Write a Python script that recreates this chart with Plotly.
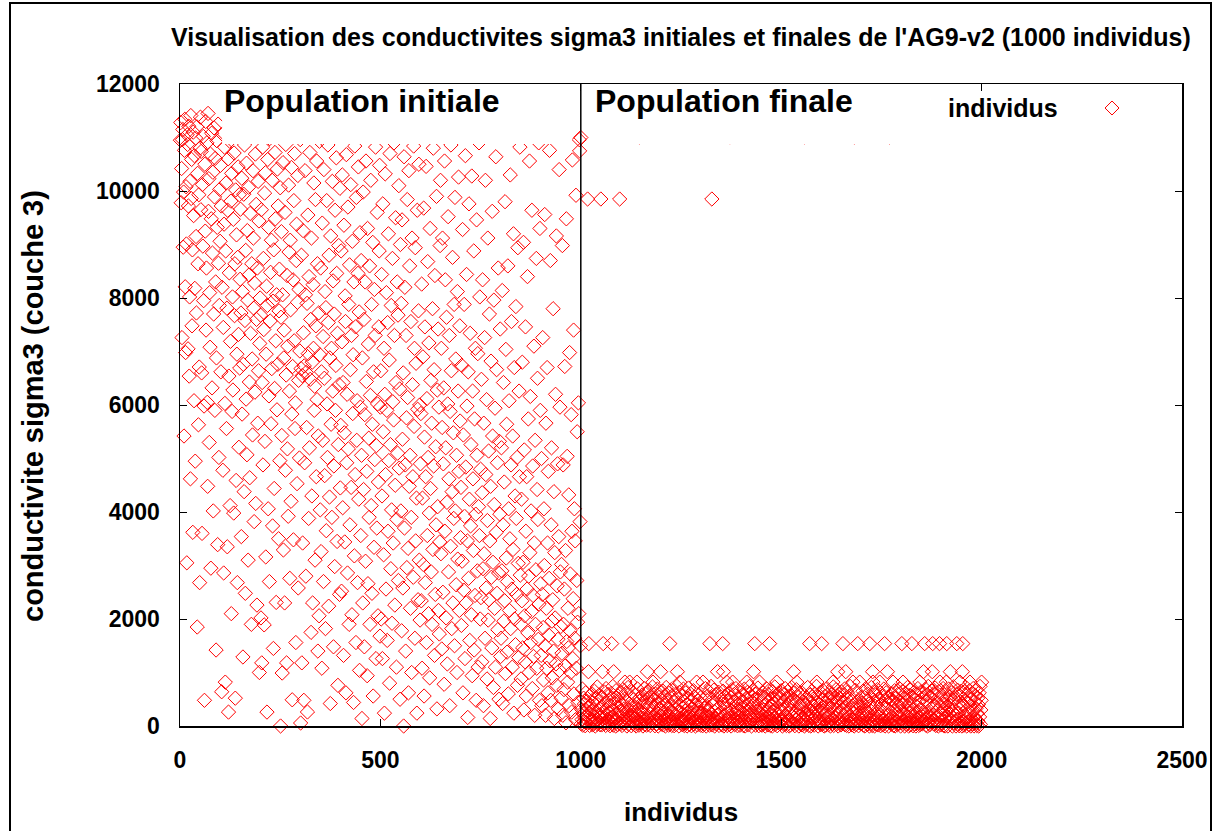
import plotly.graph_objects as go

# ---- DATA (estimated) ----
# sigma3 of the 1000 individuals of the initial population (individus 1..1000)
pop_initiale = [
    10950, 11280, 9780, 10420, 7260, 10960, 11150, 8950, 9980, 5420, 10760, 11340, 8210, 6980, 10080, 9010, 3050, 11050, 10870, 7050, 9720, 11210, 6540, 8020, 10180, 4620, 11410, 9860, 10590, 7480, 8900, 3620, 11100, 9540, 6080, 10660, 8180, 4950, 10990, 9150, 7720, 11200, 1850, 10330, 8640, 5630, 9930, 6710, 2680, 10800,
    11380, 9650, 10740, 6600, 3600, 10120, 8970, 11020, 7950, 5980, 480, 10500, 9250, 11300, 7400, 8560, 10900, 6050, 4480, 11450, 9620, 10230, 5300, 8100, 7080, 10690, 2950, 9480, 11080, 6320, 8840, 10350, 4020, 7700, 11180, 9890, 5900, 10610, 8300, 1420, 6880, 10940, 9320, 3390, 11250, 8650, 5020, 7860, 10030, 9060,
    10480, 6620, 9720, 640, 8200, 11060, 4780, 7450, 2860, 9380, 10820, 6030, 820, 8880, 10150, 5560, 7810, 3350, 9640, 10600, 260, 6540, 8470, 10930, 4120, 7190, 9810, 2100, 10330, 5880, 8020, 6280, 9470, 3980, 10710, 7670, 8640, 520, 10020, 4590, 9180, 6950, 2680, 8760, 10450, 7320, 5210, 9930, 6690, 8350,
    9660, 7720, 3540, 10240, 5830, 8120, 1290, 6760, 9940, 4380, 10860, 7580, 2480, 8890, 6110, 10520, 5070, 9260, 7960, 3100, 10070, 8430, 6430, 4640, 9580, 7340, 11020, 1900, 8640, 6860, 5440, 10380, 9120, 7810, 3820, 8280, 6240, 10690, 4160, 9750, 7600, 2260, 8560, 5660, 10180, 6640, 9440, 1000, 7150, 8000,
    7680, 2020, 9650, 1180, 6420, 10820, 4880, 8740, 7410, 1890, 9960, 5320, 10340, 3160, 6950, 8220, 260, 7860, 10590, 4060, 9320, 6170, 2700, 10980, 7570, 8480, 5650, 9080, 6680, 10200, 3740, 7940, 1450, 8900, 4440, 6310, 10720, 9480, 7200, 2310, 8060, 5910, 10410, 6760, 9720, 3500, 7760, 8540, 4960, 10060,
    0, 7640, 9240, 5430, 990, 8060, 10530, 3290, 6880, 7400, 2300, 9600, 4780, 10870, 6560, 1180, 8420, 5180, 7100, 3920, 10110, 8860, 6260, 2760, 9080, 7780, 4200, 10440, 5830, 490, 6720, 8340, 3480, 9820, 7200, 10700, 5560, 6040, 1560, 8700, 9380, 4530, 7920, 10290, 2580, 6460, 8160, 5010, 7010, 10960,
    56, 6680, 8800, 1180, 6550, 3420, 9260, 7350, 480, 6730, 4920, 10380, 8060, 2800, 6610, 5580, 7900, 262, 9550, 6960, 3880, 8400, 5200, 10720, 6480, 7600, 1750, 9120, 4300, 6800, 2300, 8250, 7060, 10150, 5900, 6350, 3100, 9840, 7480, 4660, 10560, 6100, 8640, 1400, 5420, 7720, 2060, 10930, 6940, 4040,
    8560, 3260, 6620, 1080, 9400, 5340, 7280, 2700, 10400, 6500, 4680, 8120, 1820, 7820, 3650, 9820, 6020, 5020, 10860, 7540, 2240, 8800, 4280, 6880, 420, 9160, 5640, 7060, 3900, 10180, 6260, 8320, 1480, 4860, 7700, 2980, 9640, 5900, 6740, 10620, 8460, 3450, 7340, 760, 5260, 8980, 6380, 2460, 10050, 4450,
    5620, 8880, 2520, 7180, 10300, 4080, 6420, 1320, 9360, 5480, 3440, 8040, 7560, 620, 10680, 4920, 6200, 2860, 9700, 5180, 7880, 1900, 8620, 3760, 6660, 10120, 4460, 7300, 2080, 9060, 5840, 6940, 440, 8300, 3180, 10840, 4700, 7460, 1560, 9880, 5340, 6080, 2680, 8460, 10450, 4240, 7740, 1040, 9220, 5960,
    3560, 8700, 5060, 140, 6880, 2300, 9980, 4420, 7600, 1480, 5820, 8300, 3080, 10560, 6440, 4760, 940, 9300, 2660, 7140, 5380, 3900, 8600, 1900, 6180, 10200, 4120, 7880, 2480, 5640, 9040, 560, 6620, 3340, 8160, 4980, 7300, 10820, 1260, 5240, 3700, 9600, 6020, 2060, 4560, 7460, 8880, 10480, 1680, 5960,
    6640, 2000, 8440, 4300, 1260, 9760, 5500, 3200, 7060, 240, 6200, 10320, 4700, 2560, 8100, 5900, 1600, 7540, 3640, 9200, 4960, 6840, 800, 10700, 5260, 2940, 7860, 4040, 1920, 8740, 6060, 3420, 5720, 10900, 7300, 2260, 4500, 9500, 6420, 1100, 3860, 8300, 5100, 7680, 2720, 10100, 4820, 6300, 500, 9000,
    4020, 7900, 1780, 9460, 5360, 2580, 6600, 0, 10640, 3700, 8200, 4880, 1400, 7300, 5760, 2960, 9840, 6140, 3320, 620, 10380, 4480, 8600, 5060, 2200, 7560, 3900, 1000, 9120, 6380, 4660, 2780, 10840, 5600, 7060, 1640, 8940, 3460, 6780, 4260, 240, 9640, 5920, 2360, 7760, 10500, 3100, 6000, 1980, 4900,
    5840, 2340, 8260, 1080, 4260, 6900, 3020, 9680, 560, 5400, 7460, 2680, 4660, 10460, 1560, 6120, 3560, 8680, 5020, 2100, 7160, 3980, 900, 9300, 4440, 6460, 2880, 5660, 1900, 7800, 3300, 10800, 4860, 6660, 1320, 8420, 2460, 5220, 3760, 9900, 320, 6280, 4100, 7420, 2160, 5960, 1720, 3440, 8980, 10200,
    3220, 7060, 1440, 5580, 9120, 2500, 4900, 6320, 780, 10560, 3640, 8340, 5200, 2020, 7640, 4180, 1160, 6020, 9520, 2880, 4620, 7300, 380, 5880, 3360, 10860, 6640, 1820, 4380, 8760, 2300, 5480, 3880, 7880, 1500, 9880, 4020, 6860, 2640, 5060, 1000, 8120, 3120, 6260, 10260, 4760, 2160, 7480, 5700, 3520,
    4460, 1880, 6740, 3080, 9280, 620, 5440, 2540, 7880, 3920, 1260, 10660, 4840, 2300, 8440, 5980, 3460, 160, 6620, 2760, 9760, 4240, 1600, 7340, 3740, 5260, 2080, 10280, 940, 6260, 4620, 3280, 8880, 1420, 5740, 2440, 7060, 3960, 480, 9460, 5060, 2900, 6960, 1100, 4100, 10900, 3560, 8020, 2000, 4800,
    2400, 6480, 1200, 4360, 8340, 2940, 380, 5660, 3220, 7260, 1640, 10200, 4700, 2580, 6100, 880, 3840, 9120, 1980, 5140, 2360, 7700, 3460, 140, 4480, 6820, 2780, 1460, 9620, 5420, 3060, 720, 7960, 4140, 2200, 5940, 1100, 10640, 3620, 6660, 2480, 4920, 1800, 8560, 2860, 500, 5320, 3960, 7420, 1300,
    1640, 5200, 2900, 8140, 420, 3760, 6420, 1960, 4560, 2340, 9800, 980, 7040, 3140, 5640, 1380, 2700, 8600, 600, 4060, 6080, 2160, 3500, 10300, 1820, 4880, 7560, 2560, 1100, 5420, 3300, 9200, 240, 6700, 2000, 4300, 1520, 7840, 3880, 2460, 5020, 760, 8940, 3040, 1280, 6260, 4660, 10820, 2820, 1900,
    880, 4240, 2340, 6800, 1460, 3060, 9040, 300, 5160, 2060, 1200, 7460, 3640, 560, 4660, 2560, 8400, 1740, 5740, 2800, 1000, 10560, 3240, 6160, 1560, 4020, 2140, 9640, 700, 4860, 2440, 1300, 7100, 3420, 200, 5340, 1900, 2920, 8740, 1080, 4420, 6500, 3860, 1620, 10900, 2280, 480, 9300, 5900, 2660,
    1320, 5000, 380, 2460, 7260, 1840, 860, 4060, 3000, 9560, 1500, 200, 5660, 2200, 1080, 6700, 3420, 620, 4760, 1700, 2760, 10760, 1220, 8700, 480, 3760, 5200, 1960, 900, 2360, 7800, 1400, 4380, 140, 3240, 2020, 6200, 1160, 9160, 760, 2620, 4900, 1620, 320, 3540, 10400, 1040, 5960, 2880, 1860,
    520, 3020, 1360, 8980, 200, 4880, 1900, 680, 2560, 6720, 1120, 3280, 60, 9480, 1580, 5040, 820, 2200, 1460, 4320, 380, 6980, 1780, 2840, 1000, 5820, 260, 3640, 10580, 1260, 2380, 7400, 600, 4060, 1640, 3460, 120, 9920, 1080, 2720, 5500, 1940, 440, 6040, 2100, 10960, 10750, 3820, 1500, 11000,
]

# sigma3 of the 1000 individuals of the final population (individus 1001..2000), low band
pop_finale = [
    40, 310, 120, 690, 15, 230, 520, 80, 410, 150, 5, 620, 270, 60, 460, 190, 30, 350, 100, 720, 250, 10, 560, 140, 380, 70, 210, 600, 20, 440, 110, 300, 50, 650, 170, 0, 500, 90, 260, 130, 730, 35, 400, 200, 75, 580, 330, 25, 160, 480,
    180, 20, 540, 95, 360, 0, 270, 640, 45, 150, 430, 10, 700, 220, 65, 330, 125, 590, 30, 250, 470, 85, 5, 380, 160, 610, 55, 290, 115, 740, 15, 200, 510, 70, 420, 140, 0, 660, 240, 100, 350, 25, 560, 185, 60, 450, 135, 280, 40, 620,
    90, 400, 10, 230, 680, 130, 55, 320, 500, 20, 170, 610, 75, 260, 0, 440, 110, 720, 35, 300, 150, 540, 65, 210, 380, 5, 640, 120, 270, 45, 490, 195, 80, 350, 25, 570, 140, 0, 410, 240, 100, 690, 60, 310, 15, 460, 175, 530, 70, 280,
    260, 50, 580, 145, 0, 370, 95, 700, 210, 30, 450, 120, 620, 15, 290, 75, 520, 180, 40, 340, 660, 105, 10, 400, 230, 560, 60, 155, 730, 25, 310, 480, 85, 200, 5, 600, 130, 380, 45, 250, 690, 115, 0, 430, 170, 540, 70, 320, 20, 640,
    35, 290, 470, 110, 650, 20, 205, 390, 80, 560, 0, 160, 720, 245, 60, 430, 125, 330, 15, 610, 190, 500, 45, 270, 90, 680, 10, 360, 140, 530, 70, 225, 5, 450, 175, 590, 30, 310, 100, 740, 55, 260, 420, 135, 0, 630, 215, 380, 65, 150,
    120, 560, 25, 340, 80, 690, 190, 10, 450, 140, 280, 620, 55, 400, 0, 230, 520, 95, 710, 165, 30, 370, 110, 600, 250, 5, 480, 70, 320, 150, 660, 40, 210, 540, 85, 0, 390, 130, 730, 270, 20, 470, 105, 300, 580, 60, 180, 420, 15, 240,
    410, 70, 250, 5, 600, 145, 330, 30, 520, 95, 700, 200, 0, 380, 125, 560, 50, 290, 170, 640, 15, 440, 85, 230, 740, 110, 360, 20, 500, 160, 60, 670, 270, 0, 420, 135, 590, 40, 310, 190, 480, 75, 220, 630, 10, 350, 100, 550, 255, 35,
    150, 490, 20, 300, 650, 85, 0, 410, 205, 560, 45, 340, 120, 720, 10, 260, 470, 70, 610, 180, 30, 390, 140, 530, 0, 290, 680, 95, 220, 450, 55, 160, 590, 25, 360, 115, 700, 240, 65, 430, 5, 310, 500, 175, 80, 640, 15, 270, 390, 130,
    60, 330, 580, 140, 10, 450, 230, 690, 90, 0, 370, 170, 520, 40, 280, 630, 105, 20, 400, 210, 740, 75, 310, 150, 550, 0, 250, 460, 125, 660, 35, 190, 420, 85, 600, 15, 340, 110, 510, 270, 50, 710, 200, 5, 380, 160, 570, 95, 300, 25,
    220, 15, 470, 100, 620, 300, 45, 180, 540, 0, 390, 130, 700, 65, 260, 440, 20, 590, 155, 330, 80, 680, 10, 240, 500, 120, 370, 0, 640, 195, 55, 420, 145, 730, 30, 280, 560, 90, 350, 5, 460, 210, 610, 70, 170, 520, 40, 310, 110, 660,
    85, 400, 0, 260, 590, 135, 30, 470, 200, 700, 55, 320, 10, 530, 165, 640, 95, 380, 240, 0, 560, 115, 20, 440, 290, 720, 70, 180, 510, 40, 350, 150, 620, 5, 270, 460, 105, 680, 25, 210, 540, 75, 330, 0, 600, 190, 45, 410, 125, 300,
    340, 20, 610, 160, 75, 450, 250, 0, 690, 115, 380, 30, 530, 205, 60, 720, 140, 310, 10, 470, 90, 580, 270, 0, 420, 175, 650, 45, 230, 500, 120, 15, 360, 600, 80, 290, 190, 740, 35, 440, 130, 0, 550, 255, 65, 400, 100, 630, 25, 320,
    170, 480, 40, 290, 660, 110, 0, 360, 220, 560, 15, 430, 145, 700, 70, 260, 510, 25, 390, 185, 620, 95, 0, 330, 460, 130, 590, 50, 240, 730, 10, 410, 160, 540, 80, 300, 680, 35, 200, 450, 120, 0, 370, 600, 60, 270, 520, 105, 20, 640,
    55, 310, 580, 0, 200, 440, 95, 690, 25, 350, 150, 520, 10, 260, 630, 75, 400, 180, 0, 560, 115, 740, 45, 290, 470, 135, 20, 380, 610, 85, 230, 0, 500, 160, 670, 30, 340, 100, 450, 210, 590, 65, 5, 420, 250, 710, 125, 360, 40, 540,
    430, 90, 230, 650, 15, 380, 140, 530, 0, 300, 700, 60, 190, 470, 30, 600, 255, 110, 410, 0, 560, 175, 45, 340, 720, 120, 10, 490, 280, 80, 640, 200, 0, 370, 150, 580, 35, 440, 100, 680, 260, 20, 510, 165, 70, 320, 620, 5, 390, 130,
    240, 560, 20, 370, 110, 690, 50, 290, 0, 480, 160, 620, 85, 330, 15, 540, 210, 0, 420, 130, 730, 65, 260, 500, 35, 180, 600, 95, 350, 10, 460, 145, 660, 0, 300, 520, 75, 220, 410, 25, 590, 170, 45, 380, 700, 120, 275, 0, 440, 60,
    100, 390, 650, 15, 230, 510, 70, 0, 340, 610, 145, 30, 460, 190, 720, 55, 280, 0, 570, 120, 400, 20, 680, 250, 85, 430, 165, 540, 5, 310, 630, 100, 40, 480, 215, 0, 370, 590, 135, 60, 700, 260, 10, 450, 180, 530, 25, 320, 640, 90,
    300, 40, 520, 170, 0, 610, 85, 360, 230, 690, 15, 450, 120, 580, 0, 270, 740, 60, 400, 190, 25, 550, 140, 330, 660, 75, 0, 490, 210, 600, 35, 380, 105, 710, 250, 10, 430, 160, 570, 50, 290, 0, 640, 180, 470, 95, 350, 20, 530, 240,
    65, 440, 200, 700, 10, 320, 580, 130, 0, 410, 260, 630, 45, 160, 490, 0, 350, 690, 90, 230, 540, 20, 380, 115, 620, 280, 0, 460, 150, 730, 55, 300, 510, 80, 200, 0, 590, 340, 125, 670, 30, 420, 240, 5, 560, 175, 370, 70, 650, 110,
    0, 270, 550, 95, 380, 15, 640, 200, 460, 50, 720, 140, 0, 310, 590, 75, 420, 230, 20, 660, 160, 500, 0, 350, 110, 610, 40, 280, 700, 185, 0, 450, 125, 570, 60, 330, 680, 10, 240, 520, 90, 400, 0, 620, 170, 740, 30, 300, 480, 0,
]

# individuals of the final population that sit on higher sigma3 levels
finale_niveau_820 = [1110, 1122, 1140, 1180, 1247, 1289, 1305, 1364, 1379, 1414, 1446, 1489, 1539, 1589, 1629,
                     1679, 1696, 1729, 1746, 1779, 1804, 1846, 1896, 1912, 1946, 1971, 2000]
finale_niveau_1015 = [1019, 1054, 1082, 1166, 1199, 1241, 1341, 1356, 1431, 1531, 1641, 1661, 1728, 1765,
                      1855, 1877, 1922, 1952]
finale_niveau_1540 = [1020, 1056, 1077, 1123, 1222, 1322, 1354, 1434, 1471, 1571, 1601, 1654, 1691, 1721,
                      1758, 1801, 1826, 1858, 1878, 1895, 1913, 1938, 1953]
finale_niveau_9850 = [1017, 1050, 1097, 1327]
finale_niveau_11010 = [1147, 1372, 1559, 1683, 1771]
niveaux = [(finale_niveau_820, 820), (finale_niveau_1015, 1015), (finale_niveau_1540, 1540),
           (finale_niveau_9850, 9850), (finale_niveau_11010, 11010)]

x_ticks = [0, 500, 1000, 1500, 2000, 2500]
y_ticks = [0, 2000, 4000, 6000, 8000, 10000, 12000]

# ---- build series ----
y_finale = list(pop_finale)
for ids, val in niveaux:
    for ind in ids:
        y_finale[ind - 1001] = val

x_all = list(range(1, len(pop_initiale) + 1)) + list(range(1001, 1001 + len(y_finale)))
y_all = pop_initiale + y_finale

RED = "#ff0000"
FONT = "Liberation Sans, Arial, sans-serif"

fig = go.Figure()
fig.add_trace(go.Scatter(
    x=x_all, y=y_all, mode="markers", name="individus", showlegend=False,
    cliponaxis=False, hoverinfo="skip",
    marker=dict(symbol="diamond-open", size=11, color=RED, line=dict(width=1, color=RED)),
))

# geometry (pixels) of the plot area
L, R, T, B = 180, 1182, 84, 726
W, H = R - L, B - T


def px(xp):
    return (xp - L) / W


def py(yp):
    return (B - yp) / H


shapes = [
    # label boxes (opaque)
    dict(type="rect", xref="x", yref="y", x0=105, x1=978, y0=10880, y1=12060,
         fillcolor="white", line=dict(width=0), layer="above"),
    dict(type="rect", xref="x", yref="y", x0=1023, x1=1889, y0=10880, y1=12060,
         fillcolor="white", line=dict(width=0), layer="above"),
    # separation line between populations
    dict(type="line", xref="x", yref="y", x0=1000, x1=1000, y0=-130, y1=12000,
         line=dict(color="black", width=1.5), layer="above"),
    # outer border of the picture
    dict(type="rect", xref="paper", yref="paper", x0=px(10), x1=px(1211), y0=py(845), y1=py(3),
         line=dict(color="black", width=2), fillcolor="rgba(0,0,0,0)", layer="above"),
    # legend sample
    dict(type="path", xref="paper", yref="paper", xsizemode="pixel", ysizemode="pixel",
         xanchor=px(1112), yanchor=py(108), path="M -7 0 L 0 7 L 7 0 L 0 -7 Z",
         line=dict(color=RED, width=1), layer="above"),
]

annotations = [
    dict(text="<b>Visualisation des conductivites sigma3 initiales et finales de l'AG9-v2 (1000 individus)</b>",
         xref="paper", yref="paper", x=px(681), y=py(37), xanchor="center", yanchor="middle",
         showarrow=False, font=dict(size=25, color="black", family=FONT)),
    dict(text="<b>Population initiale</b>", xref="paper", yref="paper", x=px(222), y=py(101),
         xanchor="left", yanchor="middle", showarrow=False,
         font=dict(size=32, color="black", family=FONT)),
    dict(text="<b>Population finale</b>", xref="paper", yref="paper", x=px(593), y=py(101),
         xanchor="left", yanchor="middle", showarrow=False,
         font=dict(size=32, color="black", family=FONT)),
    dict(text="<b>individus</b>", xref="paper", yref="paper", x=px(946), y=py(108),
         xanchor="left", yanchor="middle", showarrow=False,
         font=dict(size=25, color="black", family=FONT)),
    dict(text="<b>individus</b>", xref="paper", yref="paper", x=px(681), y=py(812),
         xanchor="center", yanchor="middle", showarrow=False,
         font=dict(size=26, color="black", family=FONT)),
    dict(text="<b>conductivite sigma3 (couche 3)</b>", xref="paper", yref="paper", x=px(33), y=py(406),
         xanchor="center", yanchor="middle", textangle=-90, showarrow=False,
         font=dict(size=29, color="black", family=FONT)),
]

axis_common = dict(
    showgrid=False, zeroline=False, showline=True, linecolor="black", linewidth=1.5,
    mirror="ticks", ticks="inside", ticklen=7, tickwidth=1, tickcolor="black",
    tickfont=dict(size=23, color="black", family=FONT, weight="bold"),
    tickformat="d",
)

fig.update_layout(
    width=1223, height=831,
    margin=dict(l=L, r=1223 - R, t=T, b=831 - B, autoexpand=False),
    paper_bgcolor="white", plot_bgcolor="white",
    showlegend=False,
    xaxis=dict(range=[0, 2500], tickvals=x_ticks, ticklabelstandoff=13, **axis_common),
    yaxis=dict(range=[0, 12000], tickvals=y_ticks, ticklabelstandoff=14, **axis_common),
    shapes=shapes,
    annotations=annotations,
)

fig.write_html("out.html", config={"displayModeBar": False, "staticPlot": True},
               post_script="document.body.style.margin='0';document.body.style.overflow='hidden';")
